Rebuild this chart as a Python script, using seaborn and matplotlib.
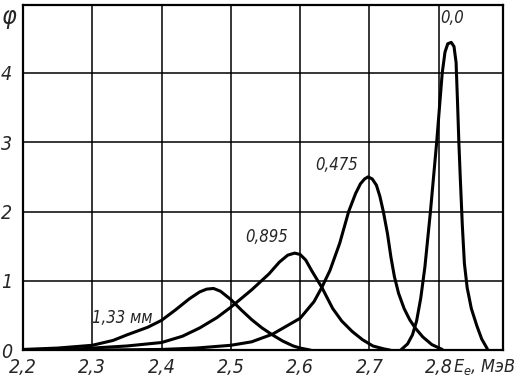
import matplotlib
matplotlib.use("Agg")
import matplotlib.pyplot as plt
import seaborn as sns
import pandas as pd

# ---- data ----
x_133 = [2.20, 2.25, 2.30, 2.33, 2.35, 2.38, 2.40, 2.42, 2.44, 2.455, 2.465, 2.475,
         2.485, 2.50, 2.515, 2.53, 2.545, 2.56, 2.575, 2.59, 2.60, 2.615]
y_133 = [0.01, 0.03, 0.07, 0.14, 0.22, 0.33, 0.43, 0.58, 0.74, 0.84, 0.88, 0.89,
         0.85, 0.73, 0.58, 0.44, 0.32, 0.22, 0.13, 0.06, 0.03, 0.0]

x_0895 = [2.25, 2.30, 2.35, 2.40, 2.43, 2.455, 2.48, 2.50, 2.53, 2.555, 2.57, 2.582,
          2.592, 2.60, 2.608, 2.617, 2.631, 2.647, 2.66, 2.675, 2.69, 2.705, 2.72, 2.73]
y_0895 = [0.0, 0.03, 0.06, 0.11, 0.20, 0.32, 0.47, 0.62, 0.87, 1.10, 1.27, 1.37,
          1.40, 1.38, 1.30, 1.14, 0.91, 0.60, 0.42, 0.27, 0.15, 0.06, 0.02, 0.0]

x_0475 = [2.30, 2.40, 2.45, 2.50, 2.53, 2.56, 2.60, 2.62, 2.631, 2.643, 2.657, 2.670,
          2.68, 2.687, 2.693, 2.698, 2.704, 2.71, 2.715, 2.72, 2.726, 2.731, 2.736,
          2.742, 2.75, 2.758, 2.766, 2.777, 2.79, 2.805]
y_0475 = [0.0, 0.01, 0.03, 0.07, 0.12, 0.23, 0.46, 0.70, 0.90, 1.15, 1.54, 2.0,
          2.26, 2.40, 2.47, 2.50, 2.47, 2.38, 2.22, 2.0, 1.68, 1.34, 1.06,
          0.82, 0.6, 0.44, 0.32, 0.19, 0.08, 0.01]

x_00 = [2.745, 2.755, 2.762, 2.768, 2.774, 2.78, 2.788, 2.797, 2.805, 2.809, 2.813,
        2.818, 2.822, 2.825, 2.827, 2.829, 2.831, 2.834, 2.837, 2.841, 2.847, 2.855,
        2.862, 2.87]
y_00 = [0.0, 0.09, 0.22, 0.42, 0.75, 1.2, 2.0, 3.0, 4.0, 4.30, 4.42, 4.44, 4.38,
        4.15, 3.6, 3.0, 2.5, 1.8, 1.25, 0.9, 0.6, 0.35, 0.16, 0.02]

curve_names = ["1,33 мм", "0,895", "0,475", "0,0"]
label_x = [2.343, 2.552, 2.653, 2.819]
label_y = [0.46, 1.63, 2.67, 4.79]

x_ticks = [2.2, 2.3, 2.4, 2.5, 2.6, 2.7, 2.8]
x_ticklabels = ["2,2", "2,3", "2,4", "2,5", "2,6", "2,7", "2,8"]
y_ticks = [0, 1, 2, 3, 4]
y_ticklabels = ["0", "1", "2", "3", "4"]

# ---- style ----
sns.set_style("white")
FONT = ["DejaVu Sans", "Liberation Sans"]
plt.rcParams["font.family"] = FONT
plt.rcParams["font.stretch"] = "condensed"
plt.rcParams["mathtext.fontset"] = "custom"
plt.rcParams["mathtext.it"] = "DejaVu Sans:italic"
plt.rcParams["mathtext.rm"] = "DejaVu Sans"

fig = plt.figure(figsize=(5.22, 3.81), dpi=100)
ax = fig.add_axes([0.044, 0.081, 0.920, 0.906])

frames = []
for name, xs, ys in zip(curve_names,
                        [x_133, x_0895, x_0475, x_00],
                        [y_133, y_0895, y_0475, y_00]):
    frames.append(pd.DataFrame({"E": xs, "phi": ys, "curve": name}))
df = pd.concat(frames, ignore_index=True)

for name in curve_names:
    sub = df[df["curve"] == name]
    sns.lineplot(data=sub, x="E", y="phi", ax=ax, color="black", linewidth=2.2,
                 estimator=None, sort=False, legend=False)

ax.set_xlim(2.2, 2.893)
ax.set_ylim(0, 4.98)
ax.set_xticks(x_ticks)
ax.set_xticklabels(x_ticklabels)
ax.set_yticks(y_ticks)
ax.set_yticklabels(y_ticklabels)
ax.grid(True, color="black", linewidth=1.1)
ax.set_axisbelow(True)
for sp in ax.spines.values():
    sp.set_visible(True)
    sp.set_color("black")
    sp.set_linewidth(1.6)
ax.tick_params(axis="x", length=0, labelsize=14, pad=6)
ax.tick_params(axis="y", length=0, labelsize=14, pad=8)
for lab in ax.get_xticklabels() + ax.get_yticklabels():
    lab.set_fontstyle("italic")
    lab.set_fontstretch("condensed")
ax.set_xlabel("")
ax.set_ylabel("")

for name, lx, ly in zip(curve_names, label_x, label_y):
    ax.text(lx, ly, name, ha="center", va="center", fontsize=12,
            fontstyle="italic", fontstretch="condensed")

# axis titles
fig.text(0.868, 0.036, r"$E_e$, МэВ", ha="left", va="center", fontsize=13,
         fontstyle="italic", fontstretch="condensed")
fig.text(0.018, 0.955, "φ", ha="center", va="center", fontsize=18,
         fontstyle="italic")

fig.savefig("out.png", dpi=100)
